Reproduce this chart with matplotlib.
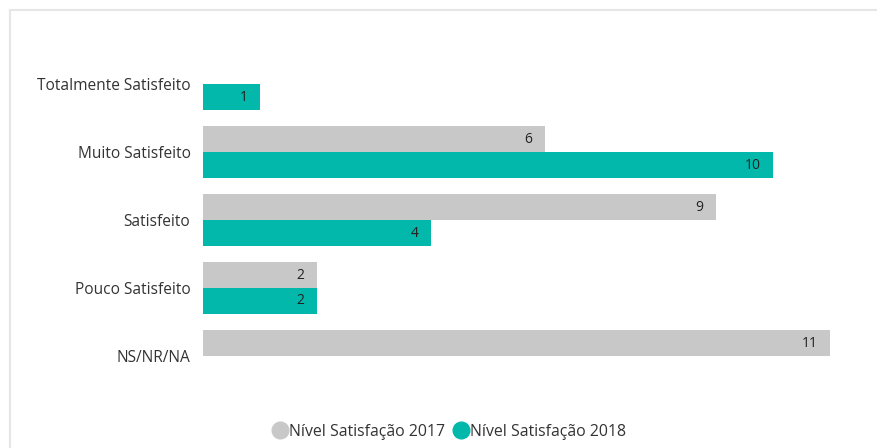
import matplotlib
matplotlib.use("Agg")
import matplotlib.pyplot as plt
from matplotlib.lines import Line2D
import numpy as np

categories = ["Totalmente Satisfeito", "Muito Satisfeito", "Satisfeito", "Pouco Satisfeito", "NS/NR/NA"]
values_2017 = [None, 6, 9, 2, 11]
values_2018 = [1, 10, 4, 2, None]
series_names = ["Nível Satisfação 2017", "Nível Satisfação 2018"]
colors = ["#C8C8C8", "#01B8AA"]

plt.rcParams['font.family'] = ['Open Sans', 'DejaVu Sans']

W, H = 877, 448
fig = plt.figure(figsize=(W / 100, H / 100), dpi=100)
fig.patch.set_facecolor("white")

# light frame (top and left)
fig.add_artist(Line2D([10 / W, 10 / W], [0, 1 - 10 / H], transform=fig.transFigure, color="#E6E6E6", lw=1.5))
fig.add_artist(Line2D([10 / W, 1], [1 - 10 / H, 1 - 10 / H], transform=fig.transFigure, color="#E6E6E6", lw=1.5))

left_px, right_px = 203, 203 + 57 * 11.5
top_px, bot_px = 40, 390
ax = fig.add_axes([left_px / W, 1 - bot_px / H, (right_px - left_px) / W, (bot_px - top_px) / H])
ax.set_xlim(0, 11.5)
ax.set_ylim(4.5, -0.65)

bh = 0.38
y = np.arange(len(categories))
for si, (vals, col) in enumerate(zip([values_2017, values_2018], colors)):
    offs = -bh / 2 if si == 0 else bh / 2
    for i, v in enumerate(vals):
        if v is None:
            continue
        ax.barh(y[i] + offs, v, height=bh, color=col, edgecolor="none")
        ax.annotate(str(v), xy=(v, y[i] + offs), xytext=(-9, 0), textcoords="offset points",
                    ha="right", va="center", fontsize=10, color="#222222")

ax.set_yticks(y)
ax.set_yticklabels(categories, fontsize=11.2, color="#333333")
ax.tick_params(axis="y", length=0, pad=9)
ax.set_xticks([])
for s in ax.spines.values():
    s.set_visible(False)

handles = [Line2D([], [], marker="o", linestyle="none", markersize=12, markerfacecolor=c, markeredgecolor=c)
           for c in colors]
fig.legend(handles, series_names, loc="center", bbox_to_anchor=(449 / W, 1 - 432 / H), ncol=2,
           frameon=False, fontsize=11.4, handletextpad=0.05, columnspacing=0.5, labelcolor="#333333",
           borderpad=0, handlelength=1.0)

fig.savefig("out.png", dpi=100, facecolor="white")
